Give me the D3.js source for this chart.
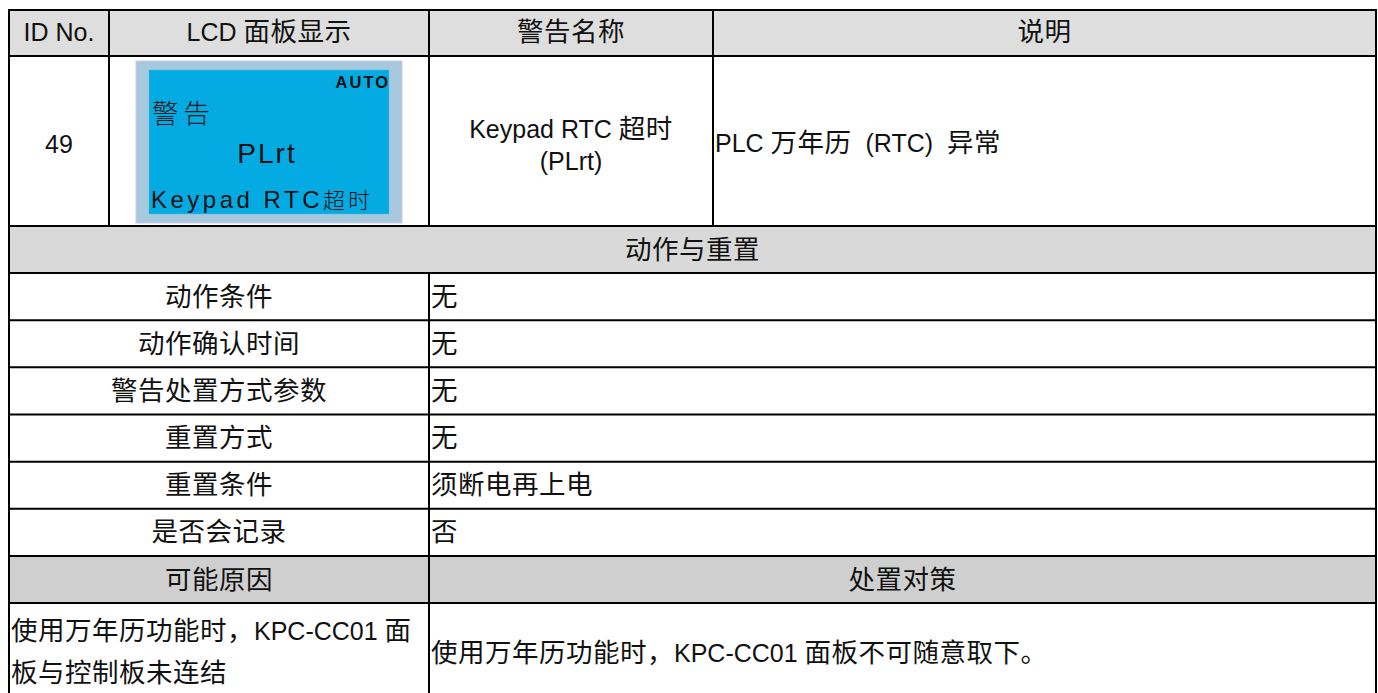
<!DOCTYPE html>
<html><head><meta charset="utf-8">
<script src="https://cdn.jsdelivr.net/npm/d3@7/dist/d3.min.js"></script>
<style>
html,body{margin:0;padding:0;background:#fff;}
svg{display:block;}
text{font-family:"Liberation Sans",Arial,"Noto Sans CJK SC",sans-serif;fill:#111;}
tspan.cjk{font-family:"Noto Sans CJK SC",sans-serif;}
</style></head>
<body>
<svg id="c" width="1378" height="693"></svg>
<script>
// ---- data ----
const headers = ["ID No.", "LCD 面板显示", "警告名称", "说明"];
const idNo = "49";
const lcdLines = ["AUTO", "警告", "PLrt", "Keypad RTC超时"];
const warnName = ["Keypad RTC 超时", "(PLrt)"];
const description = "PLC 万年历  (RTC)  异常";
const sectionTitle = "动作与重置";
const itemLabels = ["动作条件", "动作确认时间", "警告处置方式参数", "重置方式", "重置条件", "是否会记录"];
const itemValues = ["无", "无", "无", "无", "须断电再上电", "否"];
const causeHeaders = ["可能原因", "处置对策"];
const causeLines = ["使用万年历功能时，KPC-CC01 面", "板与控制板未连结"];
const remedy = "使用万年历功能时，KPC-CC01 面板不可随意取下。";

// ---- layout ----
const svg = d3.select("#c");
const L = 9, R = 1376;
const colX = [L, 109, 429, 713, R];
const yHeadTop = 10, yHeadBot = 56, yRow1Bot = 226, ySecBot = 273;
const yItems = d3.scaleBand().domain(itemLabels).range([ySecBot, 556]);
const yCauseHeadBot = 603, yBottom = 720;
const splitX = colX[2];
const BASE = {latin: 25, cjk: 26.5, ls: 0, cjkLs: 0.5};

const g = svg.append("g");
// backgrounds
g.append("rect").attr("x", L).attr("y", yHeadTop).attr("width", R - L).attr("height", yHeadBot - yHeadTop).attr("fill", "#dedede");
g.append("rect").attr("x", L).attr("y", yRow1Bot).attr("width", R - L).attr("height", ySecBot - yRow1Bot).attr("fill", "#d9d9d9");
g.append("rect").attr("x", L).attr("y", 556).attr("width", R - L).attr("height", yCauseHeadBot - 556).attr("fill", "#d0cfd0");

const cjkRe = /[\u3000-\u9fff\uff00-\uffef]/;
function runs(s) {
  const out = [];
  for (const ch of s) {
    const c = cjkRe.test(ch);
    if (out.length && out[out.length - 1].c === c) out[out.length - 1].t += ch;
    else out.push({t: ch, c});
  }
  return out;
}
function txt(str, x, y, anchor, opts) {
  const o = Object.assign({}, BASE, opts || {});
  const t = g.append("text").attr("x", x).attr("y", y).attr("text-anchor", anchor || "start")
    .attr("font-size", o.latin).style("white-space", "pre");
  if (o.weight) t.attr("font-weight", o.weight);
  if (o.fill) t.style("fill", o.fill);
  runs(str).forEach(r => {
    const ts = t.append("tspan").text(r.t);
    if (r.c) {
      ts.attr("class", "cjk").attr("font-size", o.cjk).attr("letter-spacing", o.cjkLs);
      if (o.cjkWeight) ts.attr("font-weight", o.cjkWeight);
    } else {
      ts.attr("letter-spacing", o.ls);
    }
  });
  return t;
}

// header row
headers.forEach((h, i) => txt(h, (colX[i] + colX[i + 1]) / 2, 41, "middle"));

// row 1
txt(idNo, (colX[0] + colX[1]) / 2, 153, "middle");
txt(warnName[0], (colX[2] + colX[3]) / 2, 138, "middle");
txt(warnName[1], (colX[2] + colX[3]) / 2, 170, "middle");
txt(description, colX[3] + 2, 152, "start");

// LCD panel
g.append("rect").attr("x", 136).attr("y", 61).attr("width", 266).attr("height", 162).attr("fill", "#a7c9de").attr("stroke", "#c9c9e8").attr("stroke-width", 1);
g.append("rect").attr("x", 149).attr("y", 70).attr("width", 240).attr("height", 144).attr("fill", "#04aae2").attr("stroke", "#5bb8e0").attr("stroke-width", 0.6);
txt(lcdLines[0], 390, 88, "end", {latin: 16.5, ls: 2, weight: "bold"});
txt(lcdLines[1], 152, 123, "start", {cjk: 26.5, cjkLs: 5, cjkWeight: 300, fill: "#1a1a1a"});
txt(lcdLines[2], 267, 163, "middle", {latin: 28, ls: 2});
txt(lcdLines[3], 151, 208, "start", {latin: 24, ls: 3.5, cjk: 22, cjkLs: 3, cjkWeight: 300});

// section title
txt(sectionTitle, (L + R) / 2, 259, "middle");

// items
itemLabels.forEach((lab, i) => {
  const cy = yItems(lab) + yItems.bandwidth() / 2 + 9;
  txt(lab, (L + splitX) / 2, cy, "middle");
  txt(itemValues[i], splitX + 2, cy, "start");
});

// cause header
txt(causeHeaders[0], (L + splitX) / 2, 589, "middle");
txt(causeHeaders[1], (splitX + R) / 2, 589, "middle");

// cause lines
causeLines.forEach((s, i) => txt(s, L + 2, 640 + i * 42, "start"));
txt(remedy, splitX + 2, 662, "start");

// grid lines
const lines = [];
[yHeadTop, yHeadBot, yRow1Bot, ySecBot].forEach(y => lines.push([L, y, R, y]));
yItems.domain().forEach(d => lines.push([L, yItems(d) + yItems.bandwidth(), R, yItems(d) + yItems.bandwidth()]));
lines.push([L, yCauseHeadBot, R, yCauseHeadBot]);
lines.push([L, yHeadTop, L, yBottom]);
lines.push([R, yHeadTop, R, yBottom]);
[colX[1], colX[2], colX[3]].forEach(x => lines.push([x, yHeadTop, x, yRow1Bot]));
lines.push([splitX, ySecBot, splitX, yBottom]);
g.selectAll("line.grid").data(lines).enter().append("line").attr("class", "grid")
  .attr("x1", d => d[0]).attr("y1", d => d[1]).attr("x2", d => d[2]).attr("y2", d => d[3])
  .attr("stroke", "#000").attr("stroke-width", 2).attr("stroke-linecap", "square");
</script>
</body></html>
